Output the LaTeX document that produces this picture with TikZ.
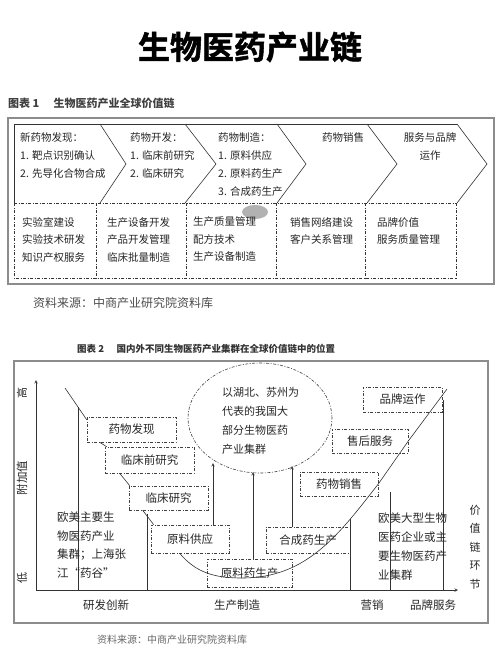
\documentclass[tikz,border=0pt]{standalone}
\usepackage{fontspec}
\setmainfont{Noto Sans CJK SC}
\newfontfamily\titlefont[FakeBold=1.6]{Noto Sans CJK SC Bold}
\usetikzlibrary{shapes.geometric}

\begin{document}
\begin{tikzpicture}[x=1pt, y=-1pt,
        panel/.style={draw=black!45, line width=1.2pt},
        dashdot/.style={dash pattern=on 3pt off 1.5pt on 1pt off 1.5pt},
        thinline/.style={black!80, line width=0.6pt},
        txt/.style={inner sep=0pt, text=black!85},
        chev/.style={txt, anchor=west, align=left, font=\fontsize{10.5}{18}\selectfont},
        cell/.style={txt, anchor=west, align=left, font=\fontsize{10.5}{17.5}\selectfont},
        box/.style={draw=black!75, dashdot, line width=0.6pt, inner sep=0pt, text=black!85, font=\fontsize{11.5}{13}\selectfont},
        arrow/.style={->, >=stealth, black!80, line width=0.6pt}
    ]
    \useasboundingbox (0,0) rectangle (500,659);

    \node[txt, font=\fontsize{32}{36}\titlefont, text=black] (title) at (250,47) {生物医药产业链};

    \node[txt, anchor=west, font=\fontsize{11}{13}\selectfont\bfseries, text=black!75] (cap1) at (8,103) {图表 1\hspace{1.3em}生物医药产业全球价值链};
    \draw[panel] (8,118) rectangle (494,284);

    \draw[thinline] (457,124) -- (14,124) -- (14,203);
    \foreach \a/\b in {100/126,185/216,277/306,367/397,457/487}
        \draw[thinline] (\a,124) -- (\b,164) -- (\a,203);
    \draw[thinline, dashdot] (14,203) -- (457,203);
    \draw[thinline, dashdot] (14,203) -- (14,278) -- (456,278);
    \foreach \x in {96,186,276,365,456}
        \draw[thinline, dashdot] (\x,203) -- (\x,278);
    \fill[black!30] (255,212) ellipse (13 and 7);

    \node[chev] (faxian1) at (20,156) {新药物发现：\\1. 靶点识别确认\\2. 先导化合物合成};
    \node[chev] (kaifa1) at (130,156) {药物开发：\\1. 临床前研究\\2. 临床研究};
    \node[chev] (zhizao1) at (218,165) {药物制造：\\1. 原料供应\\2. 原料药生产\\3. 合成药生产};
    \node[chev] (xiaoshou1) at (322,138) {药物销售};
    \node[chev, anchor=center, align=center] (fuwu1) at (430,147) {服务与品牌\\运作};

    \node[cell] (cell1) at (22,239.5) {实验室建设\\实验技术研发\\知识产权服务};
    \node[cell] (cell2) at (107,239.5) {生产设备开发\\产品开发管理\\临床批量制造};
    \node[cell] (cell3) at (193,239.5) {生产质量管理\\配方技术\\生产设备制造};
    \node[cell] (cell4) at (290,231) {销售网络建设\\客户关系管理};
    \node[cell] (cell5) at (377,231) {品牌价值\\服务质量管理};

    \node[txt, anchor=west, font=\fontsize{12}{14}\selectfont, text=black!70] (src1) at (33,303) {资料来源：中商产业研究院资料库};

    \node[txt, anchor=west, font=\fontsize{9.5}{12}\selectfont\bfseries, text=black!80] (cap2) at (77,349) {图表 2\hspace{1.3em}国内外不同生物医药产业集群在全球价值链中的位置};
    \draw[panel] (14,361) rectangle (488,623);

    \coordinate (origin) at (36,590);
    \coordinate (ytop) at (36,380);
    \coordinate (xend) at (458,590);
    \draw[arrow] (origin) -- (ytop);
    \draw[arrow] (origin) -- (xend);

    \node[box, minimum width=89pt, minimum height=25pt] (faxian) at (131.5,429.5) {药物发现};
    \node[box, minimum width=89pt, minimum height=26pt] (qianyan) at (149.5,460) {临床前研究};
    \node[box, minimum width=79pt, minimum height=24pt] (linchuang) at (168.5,498) {临床研究};
    \node[box, minimum width=78pt, minimum height=28pt] (gongying) at (190,539) {原料供应};
    \node[box, minimum width=85pt, minimum height=28pt] (yuanliao) at (249.5,573) {原料药生产};
    \node[box, minimum width=84pt, minimum height=26pt] (hecheng) at (308,540) {合成药生产};
    \node[box, minimum width=78pt, minimum height=24pt] (xiaoshou) at (339,484) {药物销售};
    \node[box, minimum width=76pt, minimum height=24pt] (shouhou) at (370,441) {售后服务};
    \node[box, minimum width=79pt, minimum height=25pt] (pinpai) at (402.5,399.5) {品牌运作};

    \node[draw=black!75, dashdot, line width=0.6pt, ellipse, minimum width=144pt, minimum height=110pt, inner sep=0pt] (jiqun) at (260,418) {};
    \node[txt, anchor=west, align=left, font=\fontsize{11}{19}\selectfont] (jiqunwen) at (222,420.5) {以湖北、苏州为\\代表的我国大\\部分生物医药\\产业集群};

    \coordinate (qidian) at (65,388);
    \coordinate (digu) at (242,578);
    \coordinate (zhongdian) at (447,389);
    \draw[thinline] (qidian) -- ([yshift=-3pt]faxian.north west);
    \draw[thinline] ([xshift=13pt]faxian.south west) -- ([xshift=2pt]qianyan.north west);
    \draw[thinline] ([xshift=15pt]qianyan.south west) -- ([xshift=1pt]linchuang.north west);
    \draw[thinline] ([xshift=14pt]linchuang.south west) -- ([xshift=3pt]gongying.north west);
    \draw[thinline] ([xshift=29pt]gongying.south west) to[out=-50,in=180] (digu)
        to[out=0,in=-128] (xiaoshou.east) -- (shouhou.east) -- (zhongdian);

    \foreach \x/\y in {78/407,147/514,350/519,390/492,443/400}
        \draw[thinline] (\x,590) -- (\x,\y);

    \coordinate (j1) at (213,463);
    \coordinate (j2) at (253,472);
    \coordinate (j3) at (292,466);
    \draw[arrow] (gongying.north -| j1) -- (j1);
    \draw[arrow] (yuanliao.north -| j2) -- (j2);
    \draw[arrow] (hecheng.north -| j3) -- (j3);

    \node[txt, anchor=west, align=left, font=\fontsize{11.5}{18.7}\selectfont] (oumei1) at (57,545) {欧美主要生\\物医药产业\\集群；上海张\\江“药谷”};
    \node[txt, anchor=west, align=left, font=\fontsize{11.5}{19}\selectfont] (oumei2) at (378,546.5) {欧美大型生物\\医药企业或主\\要生物医药产\\业集群};

    \node[txt, rotate=90, font=\fontsize{11}{13}\selectfont] (gao) at (22,393) {高};
    \node[txt, rotate=90, font=\fontsize{11.5}{13}\selectfont] (fujiazhi) at (22,478) {附加值};
    \node[txt, rotate=90, font=\fontsize{11}{13}\selectfont] (di) at (22,578) {低};
    \node[txt, align=center, font=\fontsize{11}{18.5}\selectfont] (huanjie) at (475,547) {价\\值\\链\\环\\节};

    \node[txt, font=\fontsize{11.5}{13}\selectfont] (yanfa) at (106,605) {研发创新};
    \node[txt, font=\fontsize{11.5}{13}\selectfont] (shengchan) at (237,605) {生产制造};
    \node[txt, font=\fontsize{11.5}{13}\selectfont] (yingxiao) at (372,605) {营销};
    \node[txt, font=\fontsize{11.5}{13}\selectfont] (pinpaifw) at (433,605) {品牌服务};

    \node[txt, font=\fontsize{10}{12}\selectfont, text=black!60] (src2) at (172,640) {资料来源：中商产业研究院资料库};
\end{tikzpicture}
\end{document}
